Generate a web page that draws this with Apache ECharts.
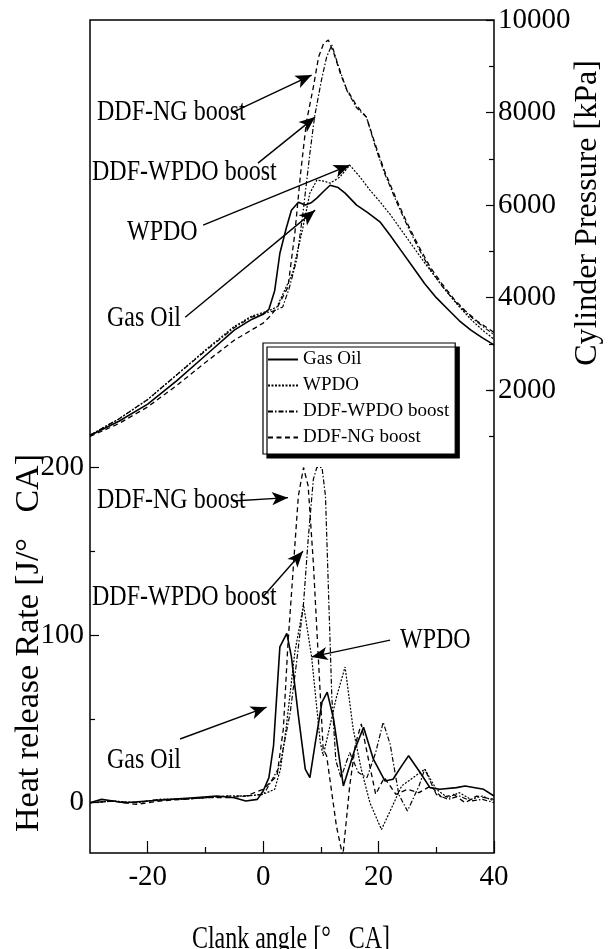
<!DOCTYPE html>
<html><head><meta charset="utf-8">
<script src="https://cdn.jsdelivr.net/npm/echarts@6/dist/echarts.min.js"></script>
<style>html,body{margin:0;padding:0;background:#fff}#c{width:612px;height:949px}</style>
</head><body><div id="c"></div>
<script>
// ---------- DATA ----------
const seriesNames = ['Gas Oil', 'WPDO', 'DDF-WPDO boost', 'DDF-NG boost'];
const xTickLabels = ['-20', '0', '20', '40'];
const hrrTickLabels = ['0', '100', '200'];
const pTickLabels = ['2000', '4000', '6000', '8000', '10000'];

// Cylinder pressure [kPa]
const pGasOilAngle = [-30,-25,-20,-15,-10,-5,-2,0,1,2,2.9,4,4.9,6.1,7.3,8.3,9.3,10.5,11.6,13,14.2,16.2,18,20.3,22,24,26,28,30,32,34,36,38,40];
const pGasOilValue = [1020,1330,1700,2200,2750,3300,3530,3640,3750,4150,4960,5500,5890,6060,6000,6050,6150,6300,6430,6380,6260,6000,5850,5630,5350,5000,4650,4300,4000,3750,3500,3300,3130,2980];
const pWpdoAngle = [-30,-25,-20,-15,-10,-5,-2,0,1,2.4,3.5,5.1,6.9,8.1,9.3,10.5,11.6,13.3,15,16.8,18.5,20.3,22,24,26,28,30,32,34,36,38,40];
const pWpdoValue = [1030,1380,1800,2330,2870,3380,3600,3680,3720,3800,4100,4530,5520,6260,6540,6520,6475,6605,6865,6605,6324,6064,5800,5450,5100,4750,4420,4100,3800,3530,3300,3100];
const pDdfWpdoAngle = [-30,-25,-20,-15,-10,-5,-2,0,2,3.4,4.5,5.8,6.9,8.1,8.9,10.1,11,11.9,12.8,14.5,16.2,17.9,19.6,21,23,25,27,29,31,33,35,37,40];
const pDdfWpdoValue = [1030,1380,1800,2330,2850,3350,3580,3650,3720,3800,4200,4810,5830,7120,7900,8700,9200,9460,9100,8480,8100,7900,7200,6700,6100,5550,5050,4600,4250,3950,3700,3480,3200];
const pDdfNgAngle = [-30,-25,-20,-15,-10,-5,0,1.2,2.5,4.3,5.5,6.5,7.5,8.7,9.6,10.5,11.3,12.2,13.5,14.5,16.2,17.9,19.6,21,23,25,27,29,31,33,35,37,40];
const pDdfNgValue = [1000,1280,1640,2100,2600,3080,3450,3600,3800,4230,5400,6700,7800,8550,9200,9500,9566,9300,8800,8500,8150,7900,7250,6750,6150,5600,5100,4650,4300,3980,3720,3500,3250];

// Heat release rate [J/deg CA]
const hGasOilAngle = [-30,-28,-26,-24,-20,-16,-12,-8,-5,-3,-1,0,1,1.8,2.9,4.1,4.9,6.1,7.3,8.1,9,10.2,11.1,12.2,13.9,15.9,17.4,19.1,21.1,22.5,24,25.2,27.2,28.9,30.6,33.5,35,38.2,40];
const hGasOilValue = [0,2,1,0,1,2,3,4,3,1,2,7,15,34,93,101,87,52,20,15,35,60,66,50,10,32,45,26,13,14,22,28,18,9,8,9,10,8,4];
const hWpdoAngle = [-30,-26,-22,-18,-14,-10,-6,-3,0,2,3,4,5.5,7,8.4,9.9,10.4,12.7,14.2,15.6,17,18.5,20.5,22,24,26,28,30,32,34,36,38,40];
const hWpdoValue = [0,1,0,2,2,3,4,4,5,8,20,45,90,118,87,36,28,63,81,44,20,0,-16,-5,10,15,20,8,3,6,2,4,1];
const hDdfWpdoAngle = [-30,-26,-22,-18,-14,-10,-6,-3,0,0.6,2.9,4.7,5.8,7,7.8,8.7,9.3,10.2,10.8,11.9,12.6,13.5,15,16.5,18,19.5,20.8,22,23.5,25,27,28,30,32,34,36,38,40];
const hDdfWpdoValue = [0,1,0,2,2,3,4,4,5,8,22,54,84,119,157,193,200,200,183,63,25,15,30,18,15,30,48,35,5,-5,10,20,5,2,4,1,2,0];
const hDdfNgAngle = [-30,-26,-22,-18,-14,-10,-6,-3,0,2.4,3.5,4.3,5.2,6.1,7,7.8,8.7,9.6,10.4,11,12.7,13.8,15,16,17,18,19.5,21,23,25,27,29,31,33,35,37,40];
const hDdfNgValue = [0,1,-1,1,2,3,3,4,8,16,44,95,139,183,200,189,143,84,32,28,-14,-32,10,35,47,30,5,15,5,8,6,10,3,5,0,4,2];

// ---------- LAYOUT ----------
const W = 612, H = 949;
const PL = 90, PR = 494, PT = 20, PB = 853;
const X_MIN = -30, X_MAX = 40;
const HRR_MIN = -30, HRR_MAX = 467;
const P_MIN = -8000, P_MAX = 10000;
const plotH = PB - PT, plotW = PR - PL;
const hrrY = v => PT + plotH * (HRR_MAX - v) / (HRR_MAX - HRR_MIN);
const pY = v => PT + plotH * (P_MAX - v) / (P_MAX - P_MIN);
const xX = v => PL + plotW * (v - X_MIN) / (X_MAX - X_MIN);

const FONT = '"Liberation Serif", "Times New Roman", serif';
const zip = (a, b) => a.map((x, i) => [x, b[i]]);

const styles = {
  'Gas Oil': { type: 'solid', width: 1.6 },
  'WPDO': { type: [2, 1.5], width: 1.2 },
  'DDF-WPDO boost': { type: [5, 2, 1.5, 2], width: 1.2 },
  'DDF-NG boost': { type: [5, 3.5], width: 1.3 }
};

function lineSeries(name, yIdx, data, markLines) {
  const s = {
    name, type: 'line', xAxisIndex: 0, yAxisIndex: yIdx, data,
    symbol: 'none', showSymbol: false, smooth: false, animation: false, clip: true,
    lineStyle: Object.assign({ color: '#000' }, styles[name]),
    itemStyle: { color: '#000' }, z: 3
  };
  if (markLines) {
    s.markLine = {
      silent: true, animation: false, symbol: ['none', 'arrow'], symbolSize: [10, 16],
      lineStyle: { color: '#000', type: 'solid', width: 1.4 },
      label: { show: false }, data: markLines
    };
  }
  return s;
}
const arrow = (x1, y1, x2, y2) => [{ coord: [x1, y1] }, { coord: [x2, y2] }];

// arrow endpoints (annotation anchors) in data units
const pArrows = [
  arrow(-5.2, 8010, 8.4, 8810),
  arrow(-0.9, 6908, 9.0, 7902),
  arrow(-10.4, 5567, 15.0, 6864),
  arrow(-13.5, 3578, 9.0, 5891)
];
const hArrows = [
  arrow(-5.2, 180, 4.3, 182),
  arrow(0.0, 123, 6.9, 150),
  arrow(22.0, 97, 8.4, 87),
  arrow(-14.4, 38, 0.6, 57)
];

const series = [
  lineSeries('Gas Oil', 1, zip(pGasOilAngle, pGasOilValue), pArrows),
  lineSeries('WPDO', 1, zip(pWpdoAngle, pWpdoValue)),
  lineSeries('DDF-WPDO boost', 1, zip(pDdfWpdoAngle, pDdfWpdoValue)),
  lineSeries('DDF-NG boost', 1, zip(pDdfNgAngle, pDdfNgValue)),
  lineSeries('Gas Oil', 0, zip(hGasOilAngle, hGasOilValue), hArrows),
  lineSeries('WPDO', 0, zip(hWpdoAngle, hWpdoValue)),
  lineSeries('DDF-WPDO boost', 0, zip(hDdfWpdoAngle, hDdfWpdoValue)),
  lineSeries('DDF-NG boost', 0, zip(hDdfNgAngle, hDdfNgValue))
];

const tickFont = { fontFamily: FONT, fontSize: 29, color: '#000' };
const noLine = { show: false, onZero: false };
const hidden = { show: false };
const tickStyle = { color: '#000', width: 1.2 };

const option = {
  backgroundColor: '#fff',
  animation: false,
  grid: [
    { left: PL, top: PT, width: plotW, height: plotH, show: true, borderColor: '#000', borderWidth: 1.5, backgroundColor: 'transparent', z: 1 },
    { left: xX(-20), top: PT, width: PR - xX(-20), height: plotH },
    { left: PL, top: hrrY(200), width: plotW, height: hrrY(0) - hrrY(200) },
    { left: PL, top: pY(10000), width: plotW, height: pY(2000) - pY(10000) },
    { left: PL, top: pY(2000), width: plotW, height: pY(1000) - pY(2000) }
  ],
  xAxis: [
    { gridIndex: 0, type: 'value', min: X_MIN, max: X_MAX, show: false },
    { gridIndex: 1, type: 'value', min: -20, max: 40, interval: 20, position: 'bottom',
      axisLine: noLine, splitLine: hidden,
      axisTick: { show: true, inside: true, length: 12, lineStyle: tickStyle },
      minorTick: { show: true, splitNumber: 2, length: 6, lineStyle: tickStyle },
      axisLabel: Object.assign({ margin: 10, formatter: v => xTickLabels.includes(String(v)) ? String(v) : '' }, tickFont) },
    { gridIndex: 2, type: 'value', min: X_MIN, max: X_MAX, show: false },
    { gridIndex: 3, type: 'value', min: X_MIN, max: X_MAX, show: false },
    { gridIndex: 4, type: 'value', min: X_MIN, max: X_MAX, show: false }
  ],
  yAxis: [
    { gridIndex: 0, type: 'value', min: HRR_MIN, max: HRR_MAX, show: false },
    { gridIndex: 0, type: 'value', min: P_MIN, max: P_MAX, show: false },
    { gridIndex: 1, type: 'value', show: false },
    { gridIndex: 2, type: 'value', min: 0, max: 200, interval: 100, position: 'left',
      axisLine: noLine, splitLine: hidden,
      axisTick: { show: true, inside: true, length: 9, lineStyle: tickStyle },
      minorTick: { show: true, splitNumber: 2, length: 5, lineStyle: tickStyle },
      axisLabel: Object.assign({ margin: 6, formatter: v => hrrTickLabels.includes(String(v)) ? String(v) : '' }, tickFont) },
    { gridIndex: 3, type: 'value', min: 2000, max: 10000, interval: 2000, position: 'right',
      axisLine: noLine, splitLine: hidden,
      axisTick: { show: true, inside: true, length: 8, lineStyle: tickStyle },
      minorTick: { show: true, splitNumber: 2, length: 5, lineStyle: tickStyle },
      axisLabel: Object.assign({ margin: 4, formatter: v => pTickLabels.includes(String(v)) ? String(v) : '' }, tickFont) },
    { gridIndex: 4, type: 'value', min: 1000, max: 2000, interval: 1000, position: 'right',
      axisLine: noLine, splitLine: hidden,
      axisTick: { show: true, inside: true, length: 5, lineStyle: tickStyle },
      axisLabel: { show: false } }
  ],
  legend: {
    data: seriesNames, orient: 'vertical', left: 263, top: 343,
    backgroundColor: '#fff', borderColor: '#000', borderWidth: 1.2,
    shadowColor: '#000', shadowBlur: 0, shadowOffsetX: 4, shadowOffsetY: 4,
    padding: [7, 6, 7, 4], itemGap: 7, itemWidth: 30, itemHeight: 14,
    itemStyle: { opacity: 0 },
    textStyle: { fontFamily: FONT, fontSize: 19, color: '#000' },
    inactiveColor: '#000', selectedMode: false
  },
  graphic: [],
  series
};

const txt = (text, x, y, size, opts) => Object.assign({
  type: 'text', x, y, z: 10, silent: true,
  style: { text, font: size + 'px ' + FONT, fill: '#000', align: 'left', verticalAlign: 'middle' }
}, opts || {});
const ctxt = (text, x, y, size, opts) => Object.assign({
  type: 'text', x, y, z: 10, silent: true,
  style: { text, font: size + 'px ' + FONT, fill: '#000', align: 'center', verticalAlign: 'middle' }
}, opts || {});

option.graphic = [
  txt('DDF-NG boost', 97, 112, 30, { scaleX: 0.8 }),
  txt('DDF-WPDO boost', 92, 172, 30, { scaleX: 0.8 }),
  txt('WPDO', 127, 232, 30, { scaleX: 0.8 }),
  txt('Gas Oil', 107, 318, 30, { scaleX: 0.8 }),
  txt('DDF-NG boost', 97, 500, 30, { scaleX: 0.8 }),
  txt('DDF-WPDO boost', 92, 597, 30, { scaleX: 0.8 }),
  txt('WPDO', 400, 640, 30, { scaleX: 0.8 }),
  txt('Gas Oil', 107, 760, 30, { scaleX: 0.8 }),
  ctxt('Clank angle [°   CA]', 291, 940, 32, { scaleX: 0.75 }),
  ctxt('Heat release Rate [J/°   CA]', 29, 643, 34, { rotation: Math.PI / 2 }),
  ctxt('Cylinder Pressure [kPa]', 588, 213, 32, { rotation: Math.PI / 2 })
];

const chart = echarts.init(document.getElementById('c'), null, { renderer: 'canvas', width: W, height: H });
chart.setOption(option);
</script></body></html>
